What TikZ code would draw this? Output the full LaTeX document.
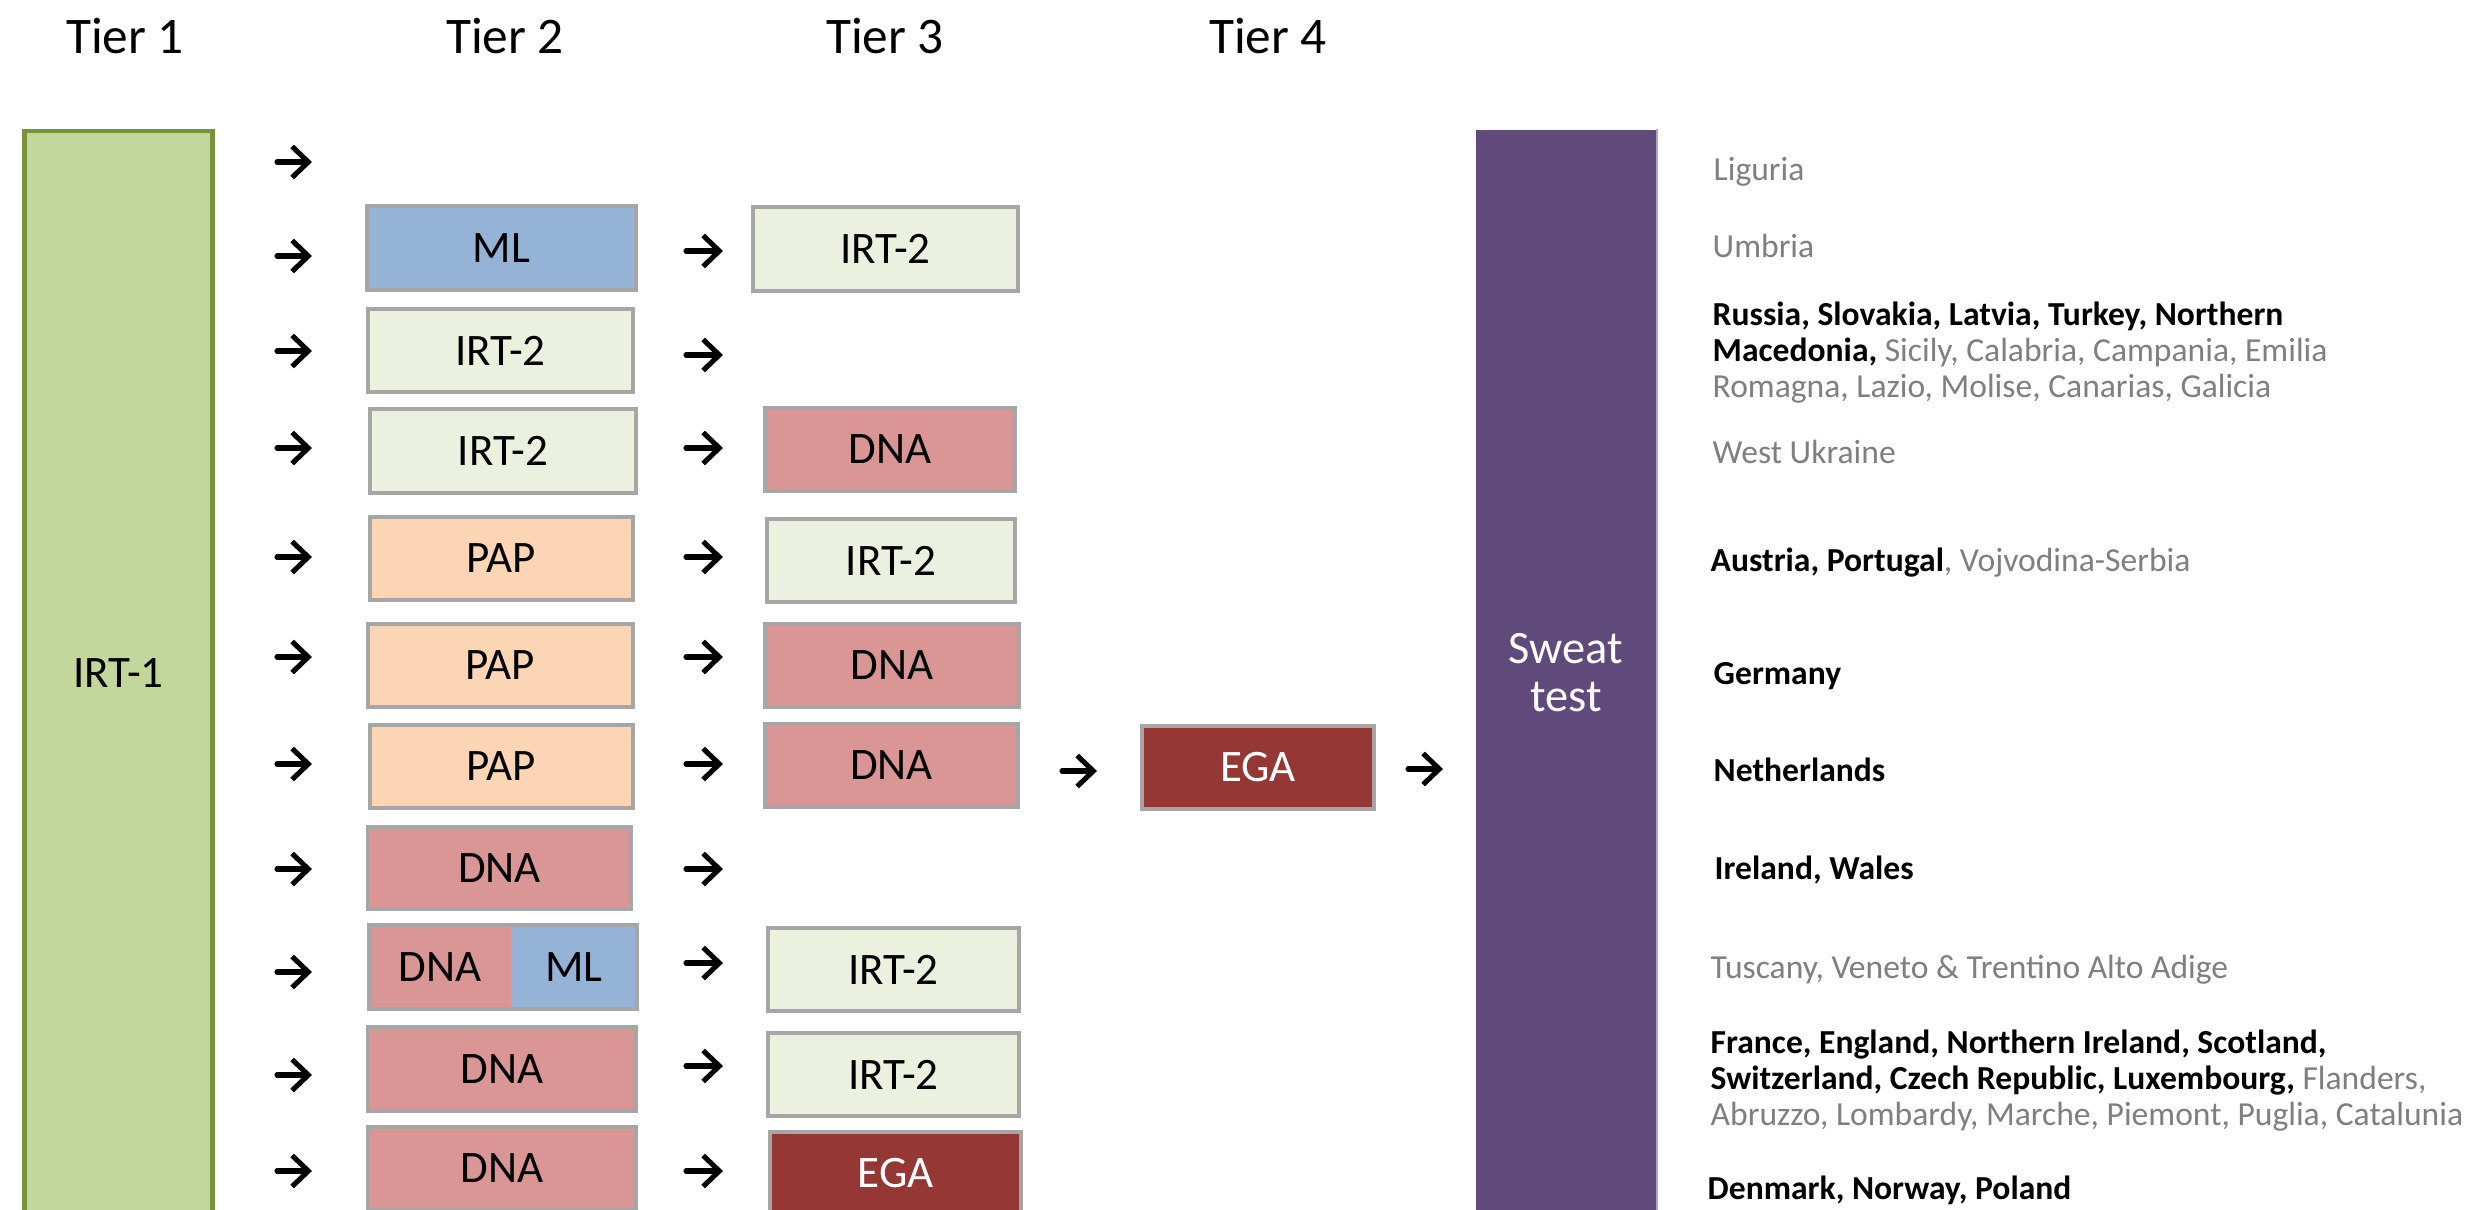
\documentclass[tikz,border=0pt]{standalone}
\usepackage{fontspec}
\setmainfont{Carlito}
\usetikzlibrary{arrows.meta}
\definecolor{gtext}{HTML}{7F7F7F}
\definecolor{irtonefill}{HTML}{C3D69B}
\definecolor{irtonedraw}{HTML}{77933C}
\definecolor{irttwofill}{HTML}{EBF1DE}
\definecolor{mlfill}{HTML}{95B3D7}
\definecolor{dnafill}{HTML}{D99694}
\definecolor{papfill}{HTML}{FCD5B5}
\definecolor{egafill}{HTML}{953735}
\definecolor{sweatfill}{HTML}{604A7B}
\definecolor{sweatedge}{HTML}{B3A2C7}
\definecolor{boxgrey}{HTML}{A6A6A6}
\begin{document}
\begin{tikzpicture}[x=0.01cm,y=-0.01cm,
  tierlbl/.style={font=\fontsize{14.6}{17}\selectfont, anchor=base, inner sep=0pt},
  boxbase/.style={draw=boxgrey, line width=0.95pt, inner sep=0pt, font=\fontsize{12.8}{14}\selectfont},
  irttwo/.style={boxbase, fill=irttwofill},
  mlbox/.style={boxbase, fill=mlfill},
  dnabox/.style={boxbase, fill=dnafill},
  papbox/.style={boxbase, fill=papfill},
  egabox/.style={boxbase, fill=egafill, text=white},
  halfbox/.style={inner sep=0pt, font=\fontsize{12.8}{14}\selectfont},
  rt/.style={anchor=base west, inner sep=0pt, font=\fontsize{9.55}{10.3}\selectfont},
  arr/.style={line width=1.45pt, line cap=round, -{Straight Barb[length=4.6pt,width=8.8pt]}}
]
\useasboundingbox (0,0) rectangle (2470,1209);
\clip (0,0) rectangle (2470,1209);
\fill[white] (0,0) rectangle (2470,1209);

% Tier headers
\node[tierlbl] (h1) at (125,53) {Tier 1};
\node[tierlbl] (h2) at (505,53) {Tier 2};
\node[tierlbl] (h3) at (885,53) {Tier 3};
\node[tierlbl] (h4) at (1268,53) {Tier 4};

% Tier 1 bar
\node[draw=irtonedraw, fill=irtonefill, line width=1.2pt, inner sep=0pt,
      minimum width=188*0.01cm, minimum height=1084*0.01cm,
      font=\fontsize{12.8}{14}\selectfont] (irt1) at (118.5,673) {IRT-1};

% Sweat test bar
\node[fill=sweatfill, inner sep=0pt, minimum width=180.5*0.01cm, minimum height=1085*0.01cm,
      text=white, align=center, font=\fontsize{13.2}{13.6}\selectfont] (sweat) at (1566,672.5) {Sweat\\test};
\draw[sweatedge, line width=0.4pt] (sweat.north east) -- (sweat.south east);

% Tier 2 boxes
\node[mlbox,  minimum width=269*0.01cm, minimum height=84*0.01cm] (b2) at (501.5,248) {ML};
\node[irttwo, minimum width=265*0.01cm, minimum height=83*0.01cm] (b3) at (500.5,350.5) {IRT-2};
\node[irttwo, minimum width=266*0.01cm, minimum height=84*0.01cm] (b4) at (503,451) {IRT-2};
\node[papbox, minimum width=263*0.01cm, minimum height=83*0.01cm] (b5) at (501.5,558.5) {PAP};
\node[papbox, minimum width=265*0.01cm, minimum height=83*0.01cm] (b6) at (500.5,665.5) {PAP};
\node[papbox, minimum width=263*0.01cm, minimum height=83*0.01cm] (b7) at (501.5,766.5) {PAP};
\node[dnabox, minimum width=263*0.01cm, minimum height=82*0.01cm] (b8) at (499.5,868) {DNA};
\node[halfbox, fill=dnafill, minimum width=142*0.01cm, minimum height=84*0.01cm] (b9a) at (440,967) {DNA};
\node[halfbox, fill=mlfill,  minimum width=126*0.01cm, minimum height=84*0.01cm] (b9b) at (574,967) {ML};
\node[draw=boxgrey, line width=0.95pt, inner sep=0pt, minimum width=268*0.01cm, minimum height=84*0.01cm] (b9) at (503,967) {};
\node[dnabox, minimum width=268*0.01cm, minimum height=84*0.01cm] (b10) at (502,1069) {DNA};
\node[dnabox, minimum width=268*0.01cm, minimum height=83*0.01cm] (b11) at (502,1168.5) {DNA};

% Tier 3 boxes
\node[irttwo, minimum width=265*0.01cm, minimum height=84*0.01cm] (c2) at (885.5,249) {IRT-2};
\node[dnabox, minimum width=250*0.01cm, minimum height=83*0.01cm] (c4) at (890,449.5) {DNA};
\node[irttwo, minimum width=248*0.01cm, minimum height=83*0.01cm] (c5) at (891,560.5) {IRT-2};
\node[dnabox, minimum width=254*0.01cm, minimum height=83*0.01cm] (c6) at (892,665.5) {DNA};
\node[dnabox, minimum width=253*0.01cm, minimum height=83*0.01cm] (c7) at (891.5,765.5) {DNA};
\node[irttwo, minimum width=251*0.01cm, minimum height=83*0.01cm] (c9) at (893.5,969.5) {IRT-2};
\node[irttwo, minimum width=251*0.01cm, minimum height=83*0.01cm] (c10) at (893.5,1074.5) {IRT-2};
\node[egabox, minimum width=251*0.01cm, minimum height=83*0.01cm] (c11) at (895.5,1173.5) {EGA};

% Tier 4 box
\node[egabox, minimum width=232*0.01cm, minimum height=83*0.01cm] (d7) at (1258,767.5) {EGA};

% Arrows tier 1 -> tier 2
\foreach \yy [count=\i] in {162,256,351,448,557,657,764,869,972,1075,1171} {
  \coordinate (p\i s) at (277,\yy);
  \coordinate (p\i e) at (312,\yy);
  \draw[arr] (p\i s) -- (p\i e);
}
% Arrows tier 2 -> tier 3
\foreach \yy [count=\i] in {251,355,448,557,657,764,869,963,1066,1171} {
  \coordinate (q\i s) at (686,\yy);
  \coordinate (q\i e) at (723,\yy);
  \draw[arr] (q\i s) -- (q\i e);
}
% Arrows tier 3 -> tier 4 -> sweat test
\coordinate (r1s) at (1062,771);
\coordinate (r1e) at (1097,771);
\draw[arr] (r1s) -- (r1e);
\coordinate (r2s) at (1408,769);
\coordinate (r2e) at (1443,769);
\draw[arr] (r2s) -- (r2e);

% Right-hand text
\node[rt, text=gtext] (t1) at (1713,180) {Liguria};
\node[rt, text=gtext] (t2) at (1712,257) {Umbria};
\node[rt] (t3a) at (1712,325) {\textbf{Russia, Slovakia, Latvia, Turkey, Northern}};
\node[rt] (t3b) at (1712,361) {\textbf{Macedonia,} \textcolor{gtext}{Sicily, Calabria, Campania, Emilia}};
\node[rt, text=gtext] (t3c) at (1712,397) {Romagna, Lazio, Molise, Canarias, Galicia};
\node[rt, text=gtext] (t4) at (1712,463) {West Ukraine};
\node[rt] (t5) at (1710,571) {\textbf{Austria, Portugal}\textcolor{gtext}{, Vojvodina-Serbia}};
\node[rt] (t6) at (1713,684) {\textbf{Germany}};
\node[rt] (t7) at (1713,781) {\textbf{Netherlands}};
\node[rt] (t8) at (1714,879) {\textbf{Ireland, Wales}};
\node[rt, text=gtext] (t9) at (1710,978) {Tuscany, Veneto \& Trentino Alto Adige};
\node[rt] (t10a) at (1710,1053) {\textbf{France, England, Northern Ireland, Scotland,}};
\node[rt] (t10b) at (1710,1089) {\textbf{Switzerland, Czech Republic, Luxembourg,} \textcolor{gtext}{Flanders,}};
\node[rt, text=gtext] (t10c) at (1710,1125) {Abruzzo, Lombardy, Marche, Piemont, Puglia, Catalunia};
\node[rt] (t11) at (1707,1199) {\textbf{Denmark, Norway, Poland}};
\end{tikzpicture}
\end{document}
